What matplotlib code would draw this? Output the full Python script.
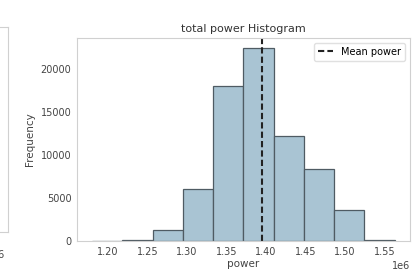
import numpy as np
import matplotlib
matplotlib.use("Agg")
import matplotlib.pyplot as plt

# histogram of total power (bin edges in units of 1e6)
bin_edges = np.array([1.1800, 1.2183, 1.2566, 1.2950, 1.3333, 1.3716,
                      1.4099, 1.4483, 1.4866, 1.5249, 1.5632]) * 1e6
counts = np.array([10, 150, 1300, 6000, 18000, 22500, 12200, 8400, 3650, 60])
mean_power = 1.3953e6

plt.rcParams['font.family'] = ['DejaVu Sans']
fig = plt.figure(figsize=(4.14, 2.78), dpi=100)

# right part of the neighbouring subplot (cut off)
axl = fig.add_axes([-0.78, 0.1655, 0.7993, 0.7374])
axl.set_xlim(1.15e6, 1.6e6)
axl.set_ylim(0, 1)
axl.set_yticks([])
axl.set_xticks([])
for s in axl.spines.values():
    s.set_color('#d0d0d0')
fig.text(5 / 414, 1 - 255 / 278, '1e6', ha='right', va='center',
         fontsize=7, color='#444444')

ax = fig.add_axes([0.186, 0.1331, 0.804, 0.7302])
ax.hist(bin_edges[:-1], bins=bin_edges, weights=counts,
        color='#a9c4d3', edgecolor='#4f5b63', linewidth=0.9)
ax.axvline(mean_power, color='#222222', linestyle=(0, (3, 1.5)), linewidth=1.5,
           label='Mean power')
ax.set_title('total power Histogram', fontsize=8, color='#333333', pad=4)
ax.set_xlabel('power', fontsize=7.5, color='#444444', labelpad=2)
ax.set_ylabel('Frequency', fontsize=7.5, color='#444444', labelpad=4)
ax.set_xticks(np.array([1.20, 1.25, 1.30, 1.35, 1.40, 1.45, 1.50, 1.55]) * 1e6)
ax.ticklabel_format(axis='x', style='sci', scilimits=(0, 0))
ax.xaxis.get_offset_text().set_fontsize(7)
ax.xaxis.get_offset_text().set_color('#444444')
ax.tick_params(length=0, labelsize=7, labelcolor='#444444', pad=4)
for s in ax.spines.values():
    s.set_color('#d0d0d0')
leg = ax.legend(loc='upper right', fontsize=7, handlelength=1.6,
                borderpad=0.4, framealpha=1)
leg.get_frame().set_edgecolor('#e0e0e0')

fig.savefig('out.png', dpi=100)
